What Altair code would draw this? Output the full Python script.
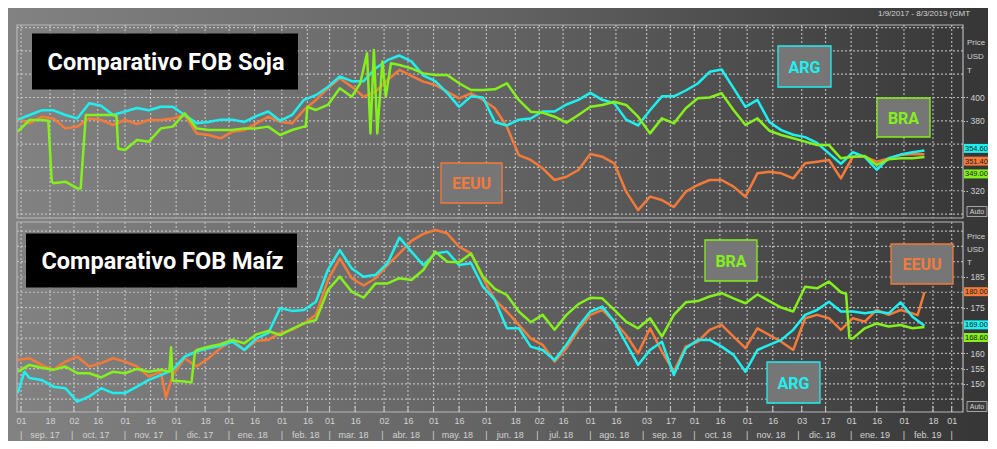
import altair as alt
import pandas as pd

# ---------------- data (weekly samples starting 2017-08-30) ----------------
START = pd.Timestamp("2017-08-30")
SERIES = ["EEUU", "ARG", "BRA"]
COLORS = ["#f47a3a", "#1ef0f0", "#84f01c"]

soja_arg = [381, 385, 389, 389, 385, 382, 395, 393, 385, 388, 391, 389, 392, 392, 385, 378,
            379, 381, 381, 379, 384, 388, 380, 385, 398, 402, 409, 418, 414, 414, 425, 432,
            436, 431, 419, 414, 404, 392, 401, 400, 379, 376, 381, 382, 388, 388, 394, 398,
            404, 398, 395, 381, 376, 389, 401, 401, 406, 412, 422, 424, 408, 392, 398, 379,
            372, 368, 366, 361, 352, 343, 353, 349, 338, 348, 351, 353, 354.6]
soja_eeuu = [382.1, 377.8, 383.5, 382, 373.5, 375, 382, 380.7, 376.4, 380.7, 377.3, 380.7, 380.7,
             382, 385, 369.2, 367.8, 365, 370.7, 372, 377.8, 383.5, 379, 377.8, 389.3, 397.9,
             407.9, 416.5, 409.3, 400.7, 405, 415, 423.6, 418.5, 413.6, 410.7, 405, 399.3, 403.6,
             397.9, 390.7, 375, 350.6, 346.4, 339.2, 329.2, 332, 337.8, 351.5, 349.2, 343.5,
             319.2, 303.4, 314.9, 312, 306, 319.2, 324.9, 329.2, 329.2, 323.5, 314.9, 334.9,
             336.3, 334.9, 330.6, 343.5, 344.9, 346.4, 330.6, 349.2, 349.2, 344.9, 347.8, 350.6,
             351.5, 351.4]
soja_bra = [370.7, 380.7, 380.7, 326.4, 327.8, 322, 385, 385, 385, 354.9, 363.5, 362.1, 373.5,
            375, 386.4, 373.5, 372.1, 372.1, 372.1, 373.5, 373.5, 375, 367.8, 372.1, 375, 389.3,
            393.6, 407.9, 400.7, None, None, None, 427.9, 425, 420.7, 419.3, 419.3, 412.2, 406.4,
            406.4, 407, 412.2, 397.9, 387.8, 387, 383.5, 378.4, 385, 392.1, 393.6, 396.4, 393.6,
            383.5, 369.2, 382.1, 377.8, 390.7, 399.3, 400, 403.6, 389.3, 376.4, 382.1, 371.5,
            367.8, 365, 362.1, 359.2, 359.2, 347.8, 349.2, 349.8, 342.1, 346.9, 347.8, 347.8, 349]
soja_bra_extra_days = [18, 20, 37, 40, 58, 59, 169, 170, 201, 205, 207, 209, 211, 214, 216, 219]
soja_bra_extra_vals = [380, 328, 322, 385, 384, 356, 375, 392, 412.2, 437.9, 369.2, 440.8, 369.2,
                       430.8, 400.7, 429.3]

maiz_arg = [147, 151.9, 151.3, 149.1, 148.6, 144.2, 145.9, 148.6, 147, 147, 149.1, 151.3, 152.9,
            154.6, 158.9, 160.6, 161.7, 162.5, 163.8, 161.1, 164.9, 166.6, 174.8, 173.9, 174.2,
            176.9, 187.3, 193.8, 187.8, 185.1, 185.7, 189.5, 197.9, 193.3, 188.9, 192.7, 193.3,
            188.9, 189.5, 181.8, 177.5, 168.2, 168.2, 162.2, 161.1, 157.8, 162.8, 168.8, 173.7,
            175.3, 170.4, 163.3, 156.2, 161.1, 163.8, 152.9, 161.7, 164.4, 164.4, 162.2, 159.5,
            154, 161.1, 162.8, 164.4, 167.7, 172.6, 174.2, 176.9, 173.7, 173.7, 173.1, 173.7,
            173.1, 176.7, 172, 169]
maiz_arg_extra_days = [4]
maiz_arg_extra_vals = [154]
maiz_eeuu = [157.8, 158.4, 156.2, 154.6, 157.3, 158.9, 155.7, 156.8, 158.4, 157.3, 155.7, 152.4,
             154, 152.9, 158.4, 155.7, 158.4, 161.7, 164.4, 161.1, 164.1, 164.4, 166.6, 167.7,
             169.8, 172.6, 184, 191.1, 184.6, 182.2, 184.6, 188.9, 192.7, 196.8, 199.1, 200.4,
             199.3, 194.9, 192.7, 184.6, 177.5, 173.7, 169.3, 164.9, 162.8, 157.3, 161.7, 167.7,
             172.6, 174.2, 170.4, 166, 160, 168.2, 160.6, 154, 162.2, 163.8, 167.7, 169.3, 165.5,
             161.7, 168.2, 166, 163.8, 161.1, 171.5, 172.6, 171.5, 167.7, 171.5, 170.4, 174.2,
             172.6, 174.2, 173.1, 180]
maiz_eeuu_extra_days = [87, 528]
maiz_eeuu_extra_vals = [145.5, 172.5]
maiz_bra = [154, 156.2, 155.3, 154.6, 155.7, 153.5, 153.5, 152.1, 154, 153.5, 154.9, 154, 154.6,
            151, 150.8, 161.1, 162.2, 163, 164.4, 163.3, 166.2, 167.3, 166, 168, 169.8, 170.9,
            180.7, 185.1, 180.2, 178.2, 182.9, 182.9, 184.6, 184, 187.3, 193.3, 190, 189.8, 192.7,
            185.1, 181.1, 179.1, 173.7, 170.2, 172.6, 167.7, 172.6, 176.1, 178.2, 178, 174.2,
            170.4, 168.2, 171.5, 165.5, 172.6, 176.7, 177.1, 178.6, 179.7, 178, 176.4, 179.3,
            177.1, 175, 173.7, 181.8, 181.3, 183.5, 180, 164.9, 168.2, 169.8, 168.8, 169.3,
            168.2, 168.6]
maiz_bra_extra_days = [89, 90, 102, 104, 486, 488]
maiz_bra_extra_vals = [154, 162, 150.5, 160.5, 179.5, 165]

tick_dates = ["2017-09-01", "2017-09-18", "2017-10-02", "2017-10-16", "2017-11-01", "2017-11-16",
              "2017-12-01", "2017-12-18", "2018-01-01", "2018-01-16", "2018-02-01", "2018-02-16",
              "2018-03-01", "2018-03-16", "2018-04-02", "2018-04-16", "2018-05-01", "2018-05-16",
              "2018-06-01", "2018-06-18", "2018-07-02", "2018-07-16", "2018-08-01", "2018-08-16",
              "2018-09-03", "2018-09-17", "2018-10-01", "2018-10-16", "2018-11-01", "2018-11-16",
              "2018-12-03", "2018-12-17", "2019-01-01", "2019-01-16", "2019-02-01", "2019-02-18",
              "2019-03-01"]
month_starts = ["2017-09-01", "2017-10-01", "2017-11-01", "2017-12-01", "2018-01-01", "2018-02-01",
                "2018-03-01", "2018-04-01", "2018-05-01", "2018-06-01", "2018-07-01", "2018-08-01",
                "2018-09-01", "2018-10-01", "2018-11-01", "2018-12-01", "2019-01-01", "2019-02-01",
                "2019-03-01"]
month_labels = ["sep. 17", "oct. 17", "nov. 17", "dic. 17", "ene. 18", "feb. 18", "mar. 18",
                "abr. 18", "may. 18", "jun. 18", "jul. 18", "ago. 18", "sep. 18", "oct. 18",
                "nov. 18", "dic. 18", "ene. 19", "feb. 19"]

# labels that are hidden behind the last-value tags in the original are left out
soja_axis_vals = [320, 380, 400]
soja_grid = [300, 320, 340, 360, 380, 400, 420, 440, 460]
maiz_axis_vals = [150, 155, 160, 175, 185]
maiz_grid = [145, 150, 155, 160, 165, 170, 175, 180, 185, 190, 195, 200]


def build(name, weekly, extra_days=(), extra_vals=()):
    rows = [(START + pd.Timedelta(days=7 * i), v) for i, v in enumerate(weekly) if v is not None]
    rows += [(START + pd.Timedelta(days=int(d)), v) for d, v in zip(extra_days, extra_vals)]
    df = pd.DataFrame(rows, columns=["fecha", "precio"]).sort_values("fecha").reset_index(drop=True)
    df["serie"] = name
    return df


soja = {
    "EEUU": build("EEUU", soja_eeuu),
    "ARG": build("ARG", soja_arg),
    "BRA": build("BRA", soja_bra, soja_bra_extra_days, soja_bra_extra_vals),
}
maiz = {
    "EEUU": build("EEUU", maiz_eeuu, maiz_eeuu_extra_days, maiz_eeuu_extra_vals),
    "ARG": build("ARG", maiz_arg, maiz_arg_extra_days, maiz_arg_extra_vals),
    "BRA": build("BRA", maiz_bra, maiz_bra_extra_days, maiz_bra_extra_vals),
}

# ---------------- layout / style ----------------
W = 946
H1 = 193
H2 = 190
FONT = "Liberation Sans"
LBL = "#d2d2d2"
GRID = "#d0d0d0"
ONE = pd.DataFrame({"k": [0]})
TAG_PATH = "M-1,-0.375H1V0.375H-1Z"
COLOR_OF = dict(zip(SERIES, COLORS))


def dt(s):
    t = pd.Timestamp(s)
    return alt.DateTime(year=t.year, month=t.month, date=t.day)


xscale = alt.Scale(domain=[alt.DateTime(year=2017, month=8, date=29, hours=15),
                           alt.DateTime(year=2019, month=3, date=7, hours=15)], nice=False)

bg_grad = alt.Gradient(
    gradient="linear",
    stops=[alt.GradientStop(offset=0, color="#828282"),
           alt.GradientStop(offset=0.5, color="#636363"),
           alt.GradientStop(offset=1, color="#363636")],
    x1=0, x2=1, y1=0, y2=0)

ticks_df = pd.DataFrame({"fecha": pd.to_datetime(tick_dates)})


def panel(data, domain, axis_vals, grid_vals, H, title, boxes, tag_offsets, price_y, auto_y,
          top_extra, bottom_axis):
    ys = alt.Scale(domain=domain, nice=False, zero=False)
    yaxis = alt.Axis(orient="right", values=axis_vals, labelColor=LBL, labelFont=FONT,
                     labelFontSize=8.5, tickColor="#c4c4c4", tickSize=6, tickDash=[1.5, 1.5],
                     labelPadding=1, domain=False, grid=False, title=None, zindex=1)
    if bottom_axis:
        xaxis = alt.Axis(orient="bottom", values=[dt(s) for s in tick_dates], format="%d",
                         labelColor=LBL, labelFont=FONT, labelFontSize=9, ticks=False,
                         domain=False, grid=False, labelPadding=4, title=None,
                         labelOverlap=False, labelFlush=False, zindex=1)
    else:
        xaxis = None

    X = lambda f="fecha:T": alt.X(f, scale=xscale, axis=xaxis)
    Y = lambda f: alt.Y(f, scale=ys, axis=yaxis)

    bg_y1 = -17 if top_extra else -2
    bg_y2 = H + 2 if top_extra else H + 29
    layers = [
        alt.Chart(ONE).mark_rect(color=bg_grad).encode(
            x=alt.value(-9), x2=alt.value(W + 25), y=alt.value(bg_y1), y2=alt.value(bg_y2)),
        alt.Chart(pd.DataFrame({"g": grid_vals})).mark_rule(
            color=GRID, strokeDash=[2, 2], strokeWidth=1.2, opacity=0.8).encode(y=Y("g:Q")),
        alt.Chart(ticks_df).mark_rule(
            color=GRID, strokeDash=[2, 2], strokeWidth=1.2, opacity=0.8).encode(x=X()),
    ]
    if bottom_axis:
        layers.append(alt.Chart(ticks_df).mark_rule(color="#c8c8c8", strokeWidth=1).encode(
            x=X(), y=alt.value(H - 6), y2=alt.value(H)))

    df = pd.concat([data[s] for s in SERIES], ignore_index=True)
    layers.append(alt.Chart(df).mark_line(strokeWidth=2.5, strokeJoin="round", clip=True).encode(
        x=X(), y=Y("precio:Q"),
        color=alt.Color("serie:N", scale=alt.Scale(domain=SERIES, range=COLORS), legend=None)))

    # plot frame
    layers.append(alt.Chart(ONE).mark_rect(fillOpacity=0, stroke="#b8b8b8", strokeWidth=1.2).encode(
        x=alt.value(0), x2=alt.value(W), y=alt.value(0), y2=alt.value(H)))

    # title box
    tx1, tx2, ty1, ty2, tsize = title[1]
    layers.append(alt.Chart(ONE).mark_rect(color="#000000").encode(
        x=alt.value(tx1), x2=alt.value(tx2), y=alt.value(ty1), y2=alt.value(ty2)))
    layers.append(alt.Chart(ONE).mark_text(
        text=title[0], font="Roboto", fontWeight="bold", fontSize=tsize, color="white",
        align="center", baseline="middle").encode(
        x=alt.value((tx1 + tx2) / 2 + 1), y=alt.value((ty1 + ty2) / 2 + 1)))

    # series label boxes
    for name, x1, x2, y1, y2 in boxes:
        c = COLOR_OF[name]
        layers.append(alt.Chart(ONE).mark_rect(color="#767676", stroke=c, strokeWidth=1.3).encode(
            x=alt.value(x1), x2=alt.value(x2), y=alt.value(y1), y2=alt.value(y2)))
        layers.append(alt.Chart(ONE).mark_text(
            text=name, font="Roboto", fontWeight="bold", fontSize=16, color=c,
            align="center", baseline="middle").encode(
            x=alt.value((x1 + x2) / 2), y=alt.value((y1 + y2) / 2 + 1)))

    # Price / USD / T
    for txt, yy in zip(["Price", "USD", "T"], price_y):
        layers.append(alt.Chart(ONE).mark_text(
            text=txt, font=FONT, fontSize=8, color=LBL, align="left", baseline="middle").encode(
            x=alt.value(W + 4), y=alt.value(yy)))

    # Auto box
    layers.append(alt.Chart(ONE).mark_rect(color="#3c3c3c", stroke="#c0c0c0", strokeWidth=0.8).encode(
        x=alt.value(W + 4), x2=alt.value(W + 24), y=alt.value(auto_y), y2=alt.value(auto_y + 10)))
    layers.append(alt.Chart(ONE).mark_text(
        text="Auto", font=FONT, fontSize=7, color=LBL, align="center", baseline="middle").encode(
        x=alt.value(W + 14), y=alt.value(auto_y + 5.5)))

    # last-value tags
    for s in SERIES:
        last = data[s].tail(1)
        off = tag_offsets[s]
        layers.append(alt.Chart(last).mark_point(
            shape=TAG_PATH, size=576, filled=True, opacity=1, color=COLOR_OF[s],
            strokeWidth=0, yOffset=off).encode(x=alt.value(W + 13), y=Y("precio:Q")))
        layers.append(alt.Chart(last).mark_text(
            font=FONT, fontSize=7.5, color="#1a1a1a", align="left", baseline="middle",
            yOffset=off + 0.5).encode(
            x=alt.value(W + 2), y=Y("precio:Q"), text=alt.Text("precio:Q", format=".2f")))

    if top_extra:
        layers.append(alt.Chart(ONE).mark_text(
            text="1/9/2017 - 8/3/2019 (GMT", font=FONT, fontSize=8, color=LBL,
            align="left", baseline="middle").encode(x=alt.value(861), y=alt.value(-11)))

    if bottom_axis:
        ms = pd.to_datetime(month_starts)
        mid = pd.DataFrame({"fecha": ms[:-1] + pd.Timedelta(days=14), "lbl": month_labels})
        sep = pd.DataFrame({"fecha": ms})
        layers.append(alt.Chart(mid).mark_text(
            font=FONT, fontSize=9, color=LBL, align="center", baseline="middle").encode(
            x=X(), y=alt.value(H + 23), text="lbl:N"))
        layers.append(alt.Chart(sep).mark_text(
            text="|", font=FONT, fontSize=9, color=LBL, align="center", baseline="middle").encode(
            x=X(), y=alt.value(H + 23)))

    return alt.layer(*layers).properties(width=W, height=H)


top = panel(
    soja, [296.6, 462.2], soja_axis_vals, soja_grid, H1,
    ("Comparativo FOB Soja", (15, 281, 8.5, 64.5, 23.5)),
    [("ARG", 761, 814, 21, 62), ("BRA", 860, 913, 73, 112), ("EEUU", 424, 485, 138, 178)],
    {"ARG": -2, "EEUU": 7, "BRA": 17}, [18.3, 32, 45.5], 181.5, True, False)

bot = panel(
    maiz, [140.8, 203.0], maiz_axis_vals, maiz_grid, H2,
    ("Comparativo FOB Maíz", (9, 280, 11.5, 65.5, 23.5)),
    [("BRA", 688, 740, 18, 59), ("EEUU", 874, 936, 22, 62), ("ARG", 750, 803, 140, 181)],
    {"EEUU": -0.6, "ARG": -1, "BRA": 10.4}, [14.7, 28, 41.3], 179.5, False, True)

chart = alt.vconcat(top, bot, spacing=0).resolve_scale(
    x="independent", y="independent", color="independent"
).properties(padding=0).configure_view(strokeWidth=0)

chart.save("out.html", embed_options={"renderer": "svg", "actions": False})
